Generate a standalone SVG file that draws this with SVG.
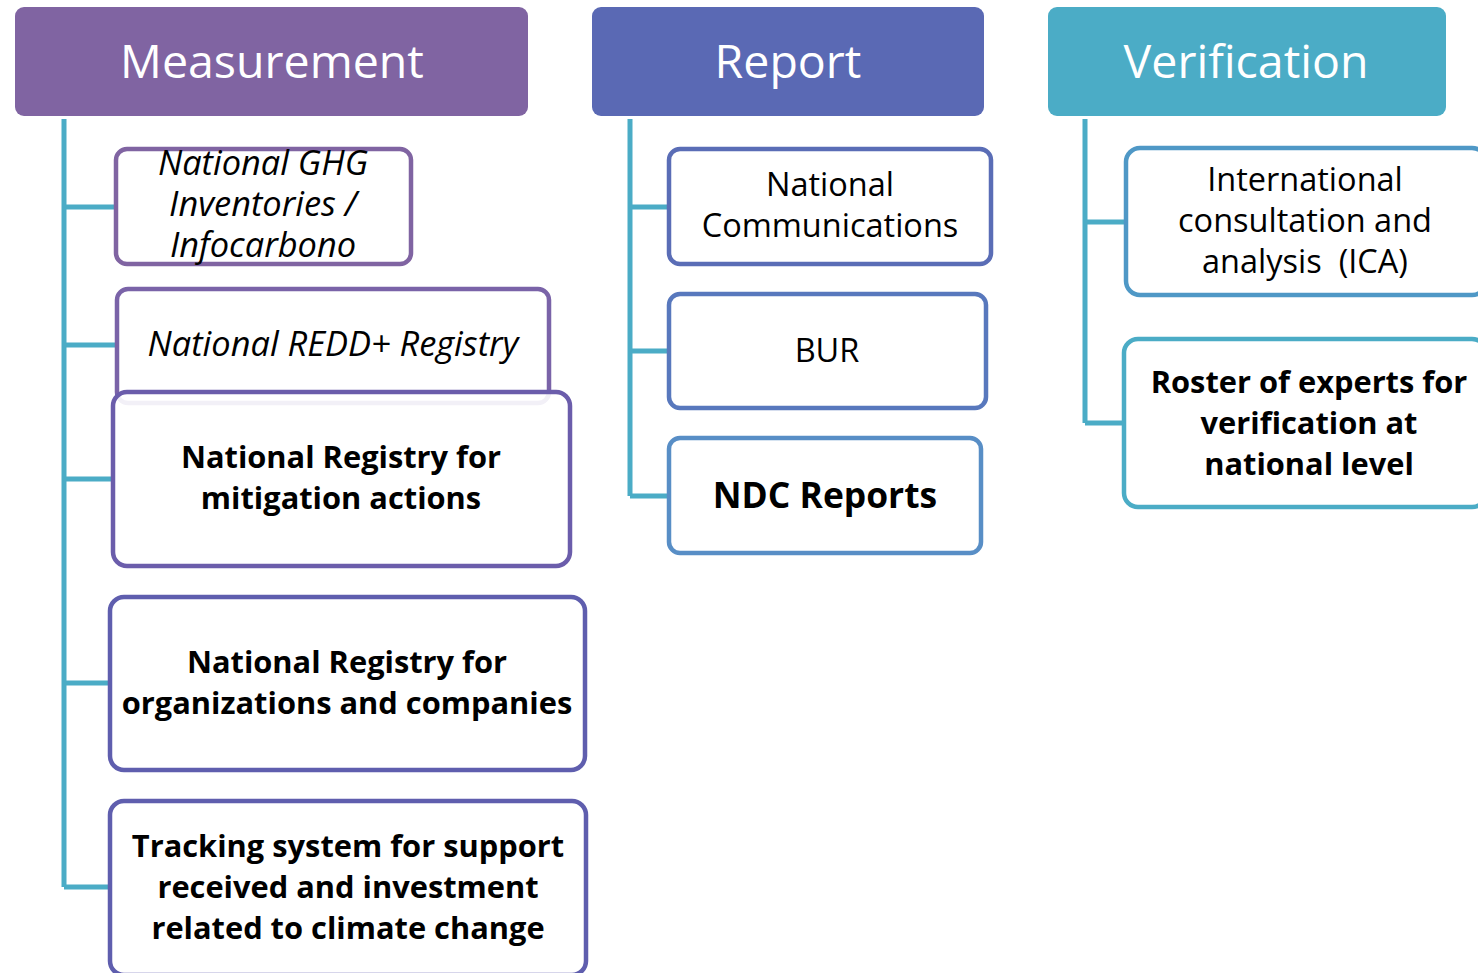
<svg xmlns="http://www.w3.org/2000/svg" width="1478" height="973" viewBox="0 0 1478 973">
<style>
.hdr{font-family:"Open Sans","Noto Sans",sans-serif;font-size:46.5px;fill:#ffffff;text-anchor:middle}
.t{font-family:"Open Sans","Noto Sans",sans-serif;font-size:32.5px;fill:#000000;text-anchor:middle}
.i{font-style:italic;font-size:34.4px}
.b{font-weight:bold;font-size:30.8px}
.box{fill:#ffffff;stroke-width:4.5}
.conn{fill:none;stroke:#4BACC6;stroke-width:5}
</style>
<rect width="1478" height="973" fill="#ffffff"/>
<g id="connectors">
<path class="conn" d="M64,119 V887 M64,207 H115 M64,345 H115 M64,479 H112 M64,683 H109 M64,887 H109"/>
<path class="conn" d="M630,119 V496 M630,207 H668 M630,351 H668 M630,496 H668"/>
<path class="conn" d="M1085,119 V423 M1085,222 H1125 M1085,423 H1123"/>
</g>
<g id="measurement">
<rect x="15" y="7" width="513" height="109" rx="9" fill="#8064A2"/>
<text class="hdr" x="272" y="78">Measurement</text>
</g>
<g id="report">
<rect x="592" y="7" width="392" height="109" rx="9" fill="#5A69B4"/>
<text class="hdr" x="788" y="78">Report</text>
</g>
<g id="verification">
<rect x="1048" y="7" width="398" height="109" rx="9" fill="#4BACC6"/>
<text class="hdr" x="1246" y="78">Verification</text>
</g>
<g id="ghg">
<rect class="box" x="116" y="149" width="295" height="115" rx="11" stroke="#8064A2"/>
<text class="t i" x="263" y="175">National GHG</text>
<text class="t i" x="263" y="216">Inventories /</text>
<text class="t i" x="263" y="257">Infocarbono</text>
</g>
<g id="redd">
<rect class="box" x="117" y="289" width="432" height="114" rx="11" stroke="#7A63A8"/>
<text class="t i" x="333" y="356">National REDD+ Registry</text>
</g>
<g id="mitigation">
<rect class="box" x="113" y="392" width="457" height="174" rx="14" stroke="#6B5DAB" fill-opacity="0.9"/>
<text class="t b" x="341" y="468">National Registry for</text>
<text class="t b" x="341" y="509">mitigation actions</text>
</g>
<g id="organizations">
<rect class="box" x="110" y="597" width="475" height="173" rx="14" stroke="#5F5EAE"/>
<text class="t b" x="347" y="673">National Registry for</text>
<text class="t b" x="347" y="714">organizations and companies</text>
</g>
<g id="tracking">
<rect class="box" x="110" y="801" width="476" height="174" rx="14" stroke="#5F5EAE"/>
<text class="t b" x="348" y="857">Tracking system for support</text>
<text class="t b" x="348" y="898">received and investment</text>
<text class="t b" x="348" y="939">related to climate change</text>
</g>
<g id="natcom">
<rect class="box" x="669" y="149" width="322" height="115" rx="11" stroke="#5A6DB6"/>
<text class="t" x="830" y="196">National</text>
<text class="t" x="830" y="237">Communications</text>
</g>
<g id="bur">
<rect class="box" x="669" y="294" width="317" height="114" rx="11" stroke="#5878BD"/>
<text class="t" x="827" y="362">BUR</text>
</g>
<g id="ndc">
<rect class="box" x="669" y="438" width="312" height="115" rx="11" stroke="#588EC6"/>
<text class="t b" x="825" y="508" style="font-size:35.4px">NDC Reports</text>
</g>
<g id="ica">
<rect class="box" x="1126" y="148" width="360" height="147" rx="14" stroke="#4F98C6"/>
<text class="t" x="1305" y="191">International</text>
<text class="t" x="1305" y="232">consultation and</text>
<text class="t" x="1305" y="273" xml:space="preserve">analysis  (ICA)</text>
</g>
<g id="roster">
<rect class="box" x="1124" y="339" width="362" height="168" rx="14" stroke="#4BACC6"/>
<text class="t b" x="1309" y="393">Roster of experts for</text>
<text class="t b" x="1309" y="434">verification at</text>
<text class="t b" x="1309" y="475">national level</text>
</g>
</svg>
